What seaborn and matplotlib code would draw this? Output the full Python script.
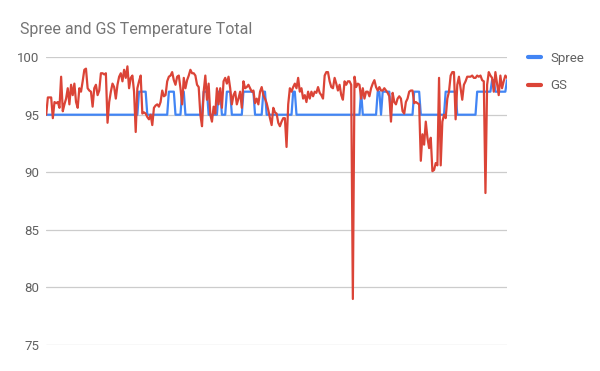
import pandas as pd
import numpy as np
import matplotlib.pyplot as plt
import seaborn as sns

# ===============================
# Data
# ===============================

gs = [
    # first stretch
    95.0, 96.5, 96.5, 96.5, 94.7, 96.1, 96.0, 96.1, 95.6, 98.3,
    95.3, 95.9, 96.4, 97.3, 95.9, 97.6, 96.7, 97.7, 96.1, 95.6,
    97.3, 97.0, 97.9, 98.9, 99.0, 97.3, 97.1, 97.0, 95.7, 97.3,
    97.6, 96.7, 97.1, 98.6, 98.6, 98.5, 98.6, 94.3, 96.1, 97.0,
    97.7, 97.4, 96.4, 97.6, 98.3, 98.6, 97.9, 98.9, 98.2, 99.2,
    97.3, 98.2, 98.4, 97.0, 93.5, 97.3, 97.9, 98.4, 95.1, 95.2,
    95.1, 94.8, 94.6, 95.0, 94.1, 95.6, 95.8, 95.9,
    # second stretch
    95.7, 96.1, 97.1, 96.6, 96.7, 97.9, 98.3, 98.4, 98.7, 98.0,
    97.6, 98.3, 98.4, 97.3, 95.9, 98.2, 97.3, 98.0, 98.4, 98.9,
    98.6, 98.6, 98.4, 97.6, 97.4, 95.0, 94.0, 97.0, 98.4, 96.3,
    97.7, 95.0, 94.4, 95.7, 95.1, 97.3, 95.9, 97.3, 95.6, 97.9,
    98.2, 97.7, 98.3, 97.3, 95.9, 96.7, 97.0, 95.9, 96.4, 97.0,
    95.6, 97.9, 97.3, 97.4, 97.6, 97.3, 97.0, 97.1, 96.0, 96.4,
    95.9, 97.0, 97.4, 96.7, 96.4, 96.0, 95.4, 94.7, 94.1, 95.6,
    # third stretch
    95.2, 95.1, 94.3, 94.0, 94.4, 94.7, 94.7, 92.2, 95.9, 97.3,
    97.0, 97.4, 97.7, 97.3, 98.2, 97.0, 97.3, 96.4, 96.7, 96.1,
    97.0, 96.4, 97.0, 96.6, 97.0, 96.9, 97.4, 96.9, 96.7, 96.4,
    98.4, 98.7, 98.7, 97.9, 97.4, 97.3, 98.2, 97.7, 97.1, 97.6,
    96.7, 96.3, 97.9, 97.6, 97.9, 97.9, 97.6, 79.0, 98.3, 97.4,
    97.7, 97.6, 96.4, 97.3, 96.4, 97.0, 97.0, 96.6, 97.3, 97.7,
    98.0, 97.4, 97.1, 97.4, 97.1, 97.1, 97.3, 97.1, 96.9, 96.6,
    # last stretch
    94.4, 96.9, 96.1, 95.9, 96.4, 96.6, 96.4, 95.3, 95.1, 96.1,
    96.4, 97.0, 97.1, 97.1, 96.0, 96.1, 96.0, 95.9, 91.0, 93.3,
    92.4, 94.4, 93.0, 92.1, 93.0, 90.1, 90.2, 90.8, 90.6, 98.2,
    90.6, 94.4, 95.0, 94.7, 96.4, 97.0, 98.4, 98.7, 98.7, 94.6,
    97.6, 98.3, 97.3, 96.3, 97.6, 97.9, 98.3, 98.3, 98.3,
    98.4, 98.2, 98.2, 98.4, 98.3, 98.4, 98.0, 97.9,
    88.2, 97.6, 98.7, 98.4, 98.2, 97.0, 98.7, 97.7, 96.7, 98.4,
    97.3, 97.9, 98.4, 98.2,
]

spree = [
    # first stretch
    95, 95, 95, 95, 95, 95, 95, 95, 95, 95,
    95, 95, 95, 95, 95, 95, 95, 95, 95, 95,
    95, 95, 95, 95, 95, 95, 95, 95, 95, 95,
    95, 95, 95, 95, 95, 95, 95, 95, 95, 95,
    95, 95, 95, 95, 95, 95, 95, 95, 95, 95,
    95, 95, 95, 95, 95, 95, 97, 97, 97, 97,
    97, 95, 95, 95, 95, 95, 95, 95,
    # second stretch
    95, 95, 95, 95, 95, 95, 97, 97, 97, 97,
    95, 95, 95, 95, 97, 97, 95, 95, 95, 95,
    95, 95, 95, 95, 95, 95, 95, 97, 97, 97,
    95, 95, 95, 95, 95, 95, 97, 97, 95, 95,
    95, 97, 97, 97, 95, 95, 95, 95, 95, 95,
    95, 97, 97, 97, 97, 97, 97, 97, 95, 95,
    95, 95, 95, 97, 97, 95, 95, 95, 95, 95,
    # third stretch
    95, 95, 95, 95, 95, 95, 95, 95, 95, 95,
    95, 97, 97, 95, 95, 95, 95, 95, 95, 95,
    95, 95, 95, 95, 95, 95, 95, 95, 95, 95,
    95, 95, 95, 95, 95, 95, 95, 95, 95, 95,
    95, 95, 95, 95, 95, 95, 95, 95, 95, 95,
    95, 95, 97, 95, 95, 95, 95, 95, 95, 95,
    95, 95, 97, 97, 95, 97, 97, 97, 97, 97,
    # last stretch
    95, 95, 95, 95, 95, 95, 95, 95, 95, 95,
    95, 95, 95, 95, 97, 97, 97, 97, 95, 95,
    95, 95, 95, 95, 95, 95, 95, 95, 95, 95,
    95, 95, 95, 97, 97, 97, 97, 97, 97, 97,
    95, 95, 95, 95, 95, 95, 95, 95, 95,
    95, 95, 95, 97, 97, 97, 97, 97,
    97, 97, 97, 97, 98, 98, 97, 97, 97, 97,
    97, 97, 97, 98,
]

y_ticks = [75, 80, 85, 90, 95, 100]

df = pd.DataFrame({
    "step": np.arange(len(gs)),
    "Spree": spree,
    "GS": gs,
})
long_df = df.melt(id_vars="step", var_name="series", value_name="temp")

# ===============================
# Plot
# ===============================

sns.set_style("white")
plt.rcParams['font.family'] = ['Roboto', 'DejaVu Sans']

fig = plt.figure(figsize=(6, 3.71), dpi=100)
ax = fig.add_axes([0.077, 0.07, 0.768, 0.776])

sns.lineplot(data=long_df, x="step", y="temp", hue="series",
             palette={"Spree": "#4285F4", "GS": "#DB4437"},
             linewidth=1.6, ax=ax)

ax.set_xlim(0, len(gs) - 1)
ax.set_ylim(75, 100)
ax.set_yticks(y_ticks)
ax.set_yticklabels([str(t) for t in y_ticks])
ax.set_xticks([])
ax.set_xlabel("")
ax.set_ylabel("")
ax.yaxis.grid(True, color="#cccccc", linewidth=0.9)
ax.set_axisbelow(True)
ax.tick_params(axis="y", length=0, pad=5, labelsize=9.5, labelcolor="#616161")
sns.despine(ax=ax, left=True, bottom=True)

fig.text(0.033, 0.92, "Spree and GS Temperature Total", fontsize=11.5,
         color="#757575", va="center", ha="left")

leg = ax.legend(loc="upper left", bbox_to_anchor=(1.02, 1.06), frameon=False,
                handlelength=1.0, handletextpad=0.7, labelspacing=1.1,
                fontsize=9.5)
for line in leg.get_lines():
    line.set_linewidth(3)
    line.set_solid_capstyle("round")
for txt in leg.get_texts():
    txt.set_color("#616161")

fig.savefig("out.png", dpi=100)
